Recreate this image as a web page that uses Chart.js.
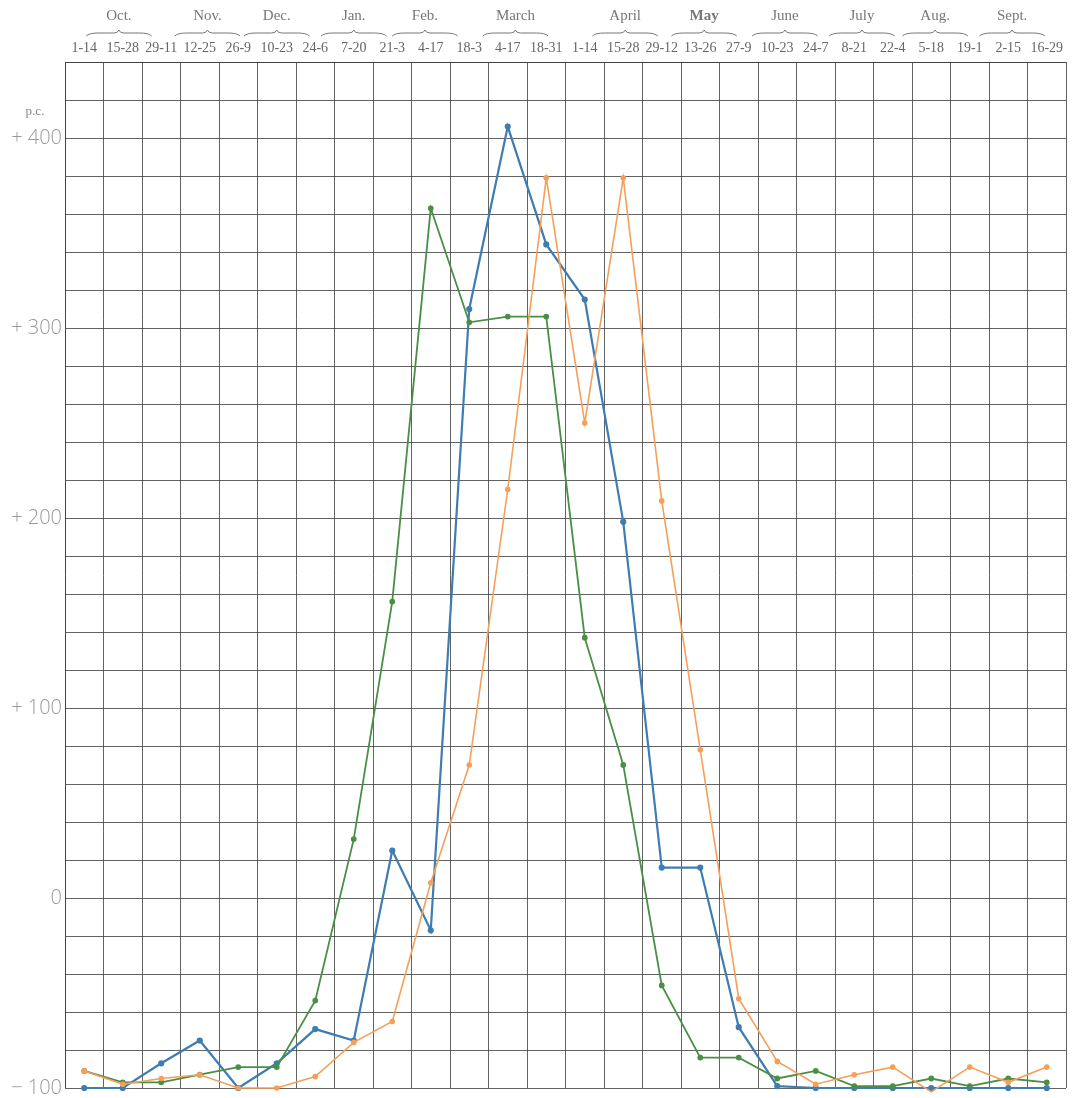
<!DOCTYPE html>
<html>
<head>
<meta charset="utf-8">
<script src="https://cdn.jsdelivr.net/npm/chart.js@4.4.1/dist/chart.umd.min.js"></script>
<style>
  html, body { margin: 0; padding: 0; background: #fff; }
  #wrap { width: 1080px; height: 1098px; }
</style>
</head>
<body>
<div id="wrap"><canvas id="chart" width="1080" height="1098"></canvas></div>
<script>
// fortnightly periods, October to September
const periods = ['1-14', '15-28', '29-11', '12-25', '26-9', '10-23', '24-6', '7-20', '21-3', '4-17', '18-3',
    '4-17', '18-31', '1-14', '15-28', '29-12', '13-26', '27-9', '10-23', '24-7', '8-21', '22-4', '5-18',
    '19-1', '2-15', '16-29'];

const months = ['Oct.', 'Nov.', 'Dec.', 'Jan.', 'Feb.', 'March', 'April', 'May', 'June', 'July', 'Aug.', 'Sept.'];
// period index each month heading sits over
const monthCenters = [0.9, 3.2, 5.0, 7.0, 8.85, 11.2, 14.05, 16.1, 18.2, 20.2, 22.1, 24.1];

// per cent above / below the mean
const blueValues = [-100, -100, -87, -75, -100, -87, -69, -75, 25, -17, 310, 406, 344, 315, 198, 16, 16, -68,
    -99, -100, -100, -100, -100, -100, -100, -100];
const greenValues = [-91, -97, -97, -93, -89, -89, -54, 31, 156, 363, 303, 306, 306, 137, 70, -46, -84, -84,
    -95, -91, -99, -99, -95, -99, -95, -97];
const orangeValues = [-91, -98, -95, -93, -100, -100, -94, -76, -65, 8, 70, 215, 379, 250, 379, 209, 78, -53,
    -86, -98, -93, -89, -102, -89, -97, -89];

const yTickLabels = [-100, 0, 100, 200, 300, 400];

const gridColor = 'rgba(60, 60, 60, 0.8)';
const serif = '"Liberation Serif", "DejaVu Serif", serif';

// month headings, braces and the "p.c." unit
const headerPlugin = {
    id: 'header',
    afterDraw(chart) {
        const ctx = chart.ctx;
        const xs = chart.scales.x;
        const colW = xs.width / periods.length;
        ctx.save();
        ctx.fillStyle = '#777';
        ctx.strokeStyle = '#777';
        ctx.lineWidth = 1;
        ctx.textAlign = 'center';
        ctx.textBaseline = 'middle';
        months.forEach((m, i) => {
            const cx = xs.left + (monthCenters[i] + 0.5) * colW;
            ctx.font = (m === 'May' ? 'bold ' : '') + '15px ' + serif;
            ctx.fillText(m, cx, 16);
            // brace
            const half = colW * 0.85;
            const y0 = 33;
            ctx.beginPath();
            ctx.moveTo(cx - half, y0 + 3);
            ctx.quadraticCurveTo(cx - half + 3, y0, cx - half + 12, y0);
            ctx.lineTo(cx - 5, y0);
            ctx.quadraticCurveTo(cx - 1, y0, cx, y0 - 3);
            ctx.quadraticCurveTo(cx + 1, y0, cx + 5, y0);
            ctx.lineTo(cx + half - 12, y0);
            ctx.quadraticCurveTo(cx + half - 3, y0, cx + half, y0 + 3);
            ctx.stroke();
        });
        ctx.font = '13px ' + serif;
        ctx.fillStyle = '#888';
        ctx.fillText('p.c.', 35, 112);
        ctx.restore();
    }
};

function lineSet(label, data, color, width) {
    return {
        label: label,
        data: data,
        borderColor: color,
        backgroundColor: color,
        borderWidth: width,
        pointRadius: 2,
        pointHoverRadius: 2,
        tension: 0,
        clip: 6
    };
}

const ctx = document.getElementById('chart').getContext('2d');
new Chart(ctx, {
    type: 'line',
    data: {
        labels: periods,
        datasets: [
            lineSet('orange', orangeValues, '#f4a05a', 1.6),
            lineSet('green', greenValues, '#4a8f45', 1.8),
            lineSet('blue', blueValues, '#3f7db0', 2.2)
        ]
    },
    options: {
        responsive: false,
        animation: false,
        devicePixelRatio: 1,
        layout: { padding: { right: 14, bottom: 10 } },
        plugins: {
            legend: { display: false },
            tooltip: { enabled: false }
        },
        scales: {
            x: {
                type: 'category',
                position: 'top',
                offset: true,
                grid: { offset: true, color: gridColor, lineWidth: 1, drawTicks: false },
                border: { color: gridColor },
                ticks: {
                    autoSkip: false,
                    maxRotation: 0,
                    padding: 5,
                    color: '#666',
                    font: { family: serif, size: 14 }
                },
                afterFit(scale) { scale.height = 62; }
            },
            y: {
                min: -100,
                max: 440,
                grid: { color: gridColor, lineWidth: 1, drawTicks: false },
                border: { color: gridColor },
                ticks: {
                    stepSize: 20,
                    autoSkip: false,
                    padding: 3,
                    color: '#999',
                    font: { family: '"Open Sans", sans-serif', size: 20, weight: '300' },
                    callback: function(v) {
                        if (!yTickLabels.includes(v)) return '';
                        if (v > 0) return '+ ' + v;
                        if (v < 0) return '\u2212 ' + (-v);
                        return '0';
                    }
                },
                afterFit(scale) {
                    scale.width = 65;
                    scale.paddingTop = 0;
                    scale.paddingBottom = 0;
                }
            }
        }
    },
    plugins: [headerPlugin]
});
</script>
</body>
</html>
